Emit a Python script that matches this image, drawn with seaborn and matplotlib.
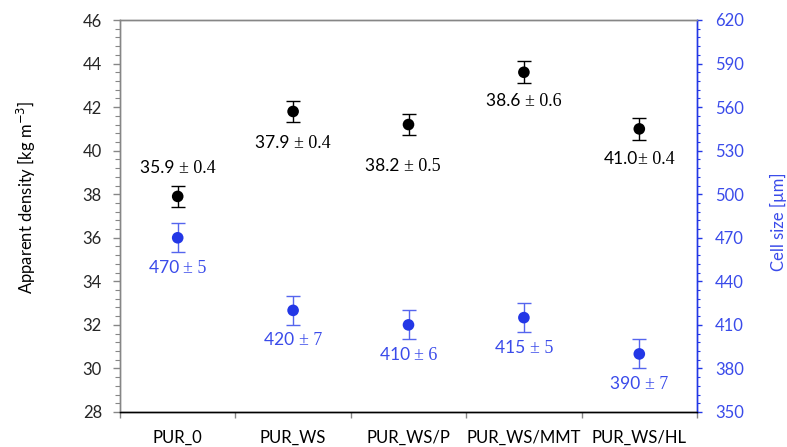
import matplotlib
matplotlib.use("Agg")
import matplotlib.pyplot as plt
from matplotlib.ticker import FixedLocator, NullFormatter, FixedFormatter
from matplotlib.offsetbox import TextArea, HPacker, AnnotationBbox
import seaborn as sns
import pandas as pd
import numpy as np

# --- data ---------------------------------------------------------------
samples = ["PUR_0", "PUR_WS", "PUR_WS/P", "PUR_WS/MMT", "PUR_WS/HL"]
density = [37.9, 41.8, 41.2, 43.6, 41.0]          # kg m^-3
density_err = [0.5, 0.5, 0.5, 0.5, 0.5]
density_text = ["35.9 ± 0.4", "37.9 ± 0.4", "38.2 ± 0.5", "38.6 ± 0.6", "41.0± 0.4"]
cell_size = [470, 420, 410, 415, 390]              # µm
cell_err = [10, 10, 10, 10, 10]
cell_text = ["470 ± 5", "420 ± 7", "410 ± 6", "415 ± 5", "390 ± 7"]

df = pd.DataFrame({"sample": samples, "density": density, "density_err": density_err,
                   "cell": cell_size, "cell_err": cell_err})

# --- style --------------------------------------------------------------
sns.set_theme(style="white")
plt.rcParams["font.family"] = ["Lato", "DejaVu Sans"]

BLUE = "#2337E6"
BLUE_TXT = "#3A4BEA"
GREY = "#868686"
SANS = ["Lato", "DejaVu Sans"]
SERIF = ["Liberation Serif", "DejaVu Serif"]

W, H = 787, 447
fig = plt.figure(figsize=(W / 100, H / 100), dpi=100)
ax = fig.add_axes([120 / W, (H - 412) / H, 577 / W, 392 / H])
ax2 = ax.twinx()

# density (left axis)
sns.scatterplot(data=df, x="sample", y="density", ax=ax, color="black", s=70,
                edgecolor="none", zorder=3, legend=False)
xpos = np.arange(len(samples))
ax.errorbar(xpos, df["density"], yerr=df["density_err"], fmt="none",
            ecolor="black", elinewidth=1.0, capsize=5, capthick=1.0, zorder=2)

# cell size (right axis)
sns.scatterplot(data=df, x="sample", y="cell", ax=ax2, color=BLUE, s=70,
                edgecolor="none", zorder=3, legend=False)
ax2.errorbar(xpos, df["cell"], yerr=df["cell_err"], fmt="none",
             ecolor="#5565EE", elinewidth=1.0, capsize=5, capthick=1.0, zorder=2)


def value_label(axis, x, y, text, offset, color):
    """Mean in sans, '± sd' in serif, packed side by side."""
    mean, sd = text.split("±")
    parts = [TextArea(mean, textprops=dict(family=SANS, size=12.5, color=color)),
             TextArea("±" + sd, textprops=dict(family=SERIF, size=13, color=color))]
    box = HPacker(children=parts, pad=0, sep=0, align="baseline")
    ab = AnnotationBbox(box, (x, y), xybox=offset, xycoords="data",
                        boxcoords="offset points", frameon=False,
                        box_alignment=(0.5, 0.5), zorder=4)
    axis.add_artist(ab)


# value annotations (offsets in points relative to each marker)
dens_off = [(0, 20), (0, -23), (-4, -30), (0, -21), (0, -22)]
for i, (val, txt) in enumerate(zip(density, density_text)):
    value_label(ax, xpos[i], val, txt, dens_off[i], "black")
for i, (val, txt) in enumerate(zip(cell_size, cell_text)):
    value_label(ax2, xpos[i], val, txt, (0, -22), BLUE_TXT)

# axes limits and ticks
ax.set_xlim(-0.5, len(samples) - 0.5)
ax.set_ylim(28, 46)
ax2.set_ylim(350, 620)

ax.yaxis.set_major_locator(FixedLocator(np.arange(28, 46.01, 2)))
ax.yaxis.set_minor_locator(FixedLocator(np.arange(28, 46.01, 0.4)))
ax2.yaxis.set_major_locator(FixedLocator(np.arange(350, 620.1, 30)))
ax2.yaxis.set_minor_locator(FixedLocator(np.arange(350, 620.1, 6)))

ax.xaxis.set_major_locator(FixedLocator(np.arange(-0.5, len(samples), 1.0)))
ax.xaxis.set_major_formatter(NullFormatter())
ax.xaxis.set_minor_locator(FixedLocator(xpos))
ax.xaxis.set_minor_formatter(FixedFormatter(samples))

ax.tick_params(axis="x", which="major", direction="out", length=4, width=1,
               color=GREY, bottom=True)
ax.tick_params(axis="x", which="minor", length=0, pad=13, labelsize=12,
               labelcolor="black", bottom=True)
ax.tick_params(axis="y", which="major", direction="out", length=5, width=1,
               color=GREY, labelsize=12, pad=8, left=True)
ax.tick_params(axis="y", which="minor", direction="out", length=3.6, width=0.8,
               color=GREY, left=True)
ax2.tick_params(axis="y", which="major", direction="out", length=3.6, width=1,
                color=BLUE, labelcolor=BLUE_TXT, labelsize=12, pad=9.4, right=True)
ax2.tick_params(axis="y", which="minor", direction="out", length=2.2, width=0.8,
                color=BLUE, right=True)

ax.set_xlabel("")
ax2.set_xlabel("")
ax.set_ylabel("")
ax2.set_ylabel("")

# spines
for a in (ax, ax2):
    a.spines["top"].set_color(GREY)
    a.spines["left"].set_color(GREY)
    a.spines["bottom"].set_color("black")
    a.spines["right"].set_color(BLUE)
    for s in a.spines.values():
        s.set_linewidth(1.0)
    a.grid(False)

# axis titles
fig.text(26 / W, 1 - 197 / H, "Apparent density [kg m$^{\\mathsf{-3}}$]", rotation=90,
         ha="center", va="center", fontsize=12, color="black")
fig.text(778 / W, 1 - 222 / H, "Cell size [µm]", rotation=90,
         ha="center", va="center", fontsize=12, color=BLUE_TXT)

fig.savefig("out.png", dpi=100, facecolor="white")
